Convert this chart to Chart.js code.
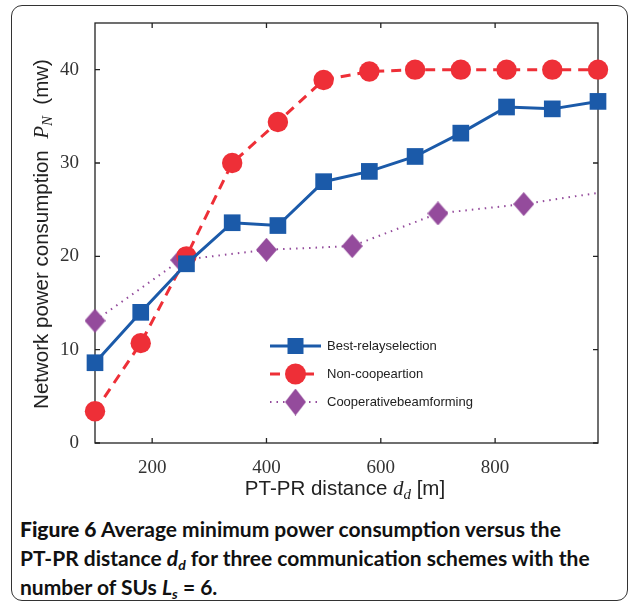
<!DOCTYPE html>
<html>
<head>
<meta charset="utf-8">
<script src="https://cdn.jsdelivr.net/npm/chart.js@4"></script>
<style>
  body { margin: 0; background: #fff; width: 635px; height: 603px; overflow: hidden; position: relative; }
  #frame { position: absolute; left: 11px; top: 5px; width: 617px; height: 596px; border: 1.3px solid #333; border-radius: 11px; box-sizing: border-box; }
  #wrap { position: absolute; left: 0; top: 0; width: 635px; height: 500px; }
  #caption { position: absolute; left: 20px; top: 514px; width: 610px; font-family: Lato, "Open Sans", sans-serif; font-weight: 700; font-size: 21px; line-height: 29px; color: #111; white-space: nowrap; }
  #caption b { font-weight: 900; }
  #caption sub { font-size: 14px; vertical-align: -4px; line-height: 0; }
</style>
</head>
<body>
<div id="frame"></div>
<div id="wrap"><canvas id="chart" width="635" height="500"></canvas></div>
<div id="caption"><b>Figure 6</b> Average minimum power consumption versus the<br>PT-PR distance <i>d<sub>d</sub></i> for three communication schemes with the<br>number of SUs <i>L<sub>s</sub></i> = 6.</div>
<script>
// distances (m) and power values (mw)
const relayX = [100, 180, 260, 340, 420, 500, 580, 660, 740, 820, 900, 980];
const bestRelay = [8.6, 14.0, 19.2, 23.6, 23.3, 28.0, 29.1, 30.7, 33.2, 36.0, 35.8, 36.6];
const nonCoop = [3.4, 10.7, 20.0, 30.0, 34.4, 38.9, 39.8, 40.0, 40.0, 40.0, 40.0, 40.0];
const beamX = [100, 250, 400, 550, 700, 850, 980];
const beamforming = [13.1, 19.6, 20.7, 21.1, 24.6, 25.6, 26.8];

const xTicks = [200, 400, 600, 800];
const yTicks = [0, 10, 20, 30, 40];
const seriesNames = ['Best-relayselection', 'Non-coopeartion', 'Cooperativebeamforming'];

const BLUE = '#1b5aa9';
const RED = '#ee2f37';
const PURPLE = '#944b9c';

function toPoints(xs, ys) {
  return xs.map((x, i) => ({ x: x, y: ys[i] }));
}

// slightly tall diamond, used as the point style of the beamforming series
function makeDiamond(w, h, color) {
  const c = document.createElement('canvas');
  c.width = w; c.height = h;
  const g = c.getContext('2d');
  g.fillStyle = color;
  g.beginPath();
  g.moveTo(w / 2, 0); g.lineTo(w, h / 2); g.lineTo(w / 2, h); g.lineTo(0, h / 2);
  g.closePath();
  g.fill();
  return c;
}
const diamond = makeDiamond(21, 24, PURPLE);
const legendDiamond = makeDiamond(21, 27, PURPLE);

// box around the plot with inward ticks on all four sides
const framePlugin = {
  id: 'frame',
  beforeDatasetsDraw(chart) {
    const ctx = chart.ctx;
    const a = chart.chartArea;
    const xs = chart.scales.x, ys = chart.scales.y;
    ctx.save();
    ctx.strokeStyle = '#222';
    ctx.lineWidth = 1.3;
    ctx.strokeRect(a.left, a.top, a.right - a.left, a.bottom - a.top);
    ctx.beginPath();
    xTicks.forEach(v => {
      const px = xs.getPixelForValue(v);
      ctx.moveTo(px, a.bottom); ctx.lineTo(px, a.bottom - 5);
      ctx.moveTo(px, a.top); ctx.lineTo(px, a.top + 5);
    });
    yTicks.forEach(v => {
      const py = ys.getPixelForValue(v);
      ctx.moveTo(a.left, py); ctx.lineTo(a.left + 5, py);
      ctx.moveTo(a.right, py); ctx.lineTo(a.right - 5, py);
    });
    ctx.stroke();
    ctx.restore();
  }
};

// draws a list of text runs, some in math italic with subscripts
function drawRuns(ctx, runs, cx, baseY) {
  let total = 0;
  runs.forEach(r => { ctx.font = r.font; total += ctx.measureText(r.text).width; });
  let x = cx - total / 2;
  runs.forEach(r => {
    ctx.font = r.font;
    ctx.fillText(r.text, x, baseY + (r.dy || 0));
    x += ctx.measureText(r.text).width;
  });
}

const titlePlugin = {
  id: 'titles',
  afterDraw(chart) {
    const ctx = chart.ctx;
    ctx.save();
    ctx.fillStyle = '#222';
    ctx.textBaseline = 'alphabetic';
    ctx.textAlign = 'left';
    const sans = '20.5px "Liberation Sans"';
    const mathI = 'italic 21px "Liberation Serif"';
    const mathSub = 'italic 15px "Liberation Serif"';
    drawRuns(ctx, [
      { text: 'PT-PR distance ', font: sans },
      { text: 'd', font: mathI },
      { text: 'd', font: mathSub, dy: 4 },
      { text: ' [m]', font: sans }
    ], 345, 495);

    ctx.translate(48, 234);
    ctx.rotate(-Math.PI / 2);
    drawRuns(ctx, [
      { text: 'Network power consumption  ', font: sans },
      { text: 'P', font: mathI },
      { text: 'N', font: mathSub, dy: 4 },
      { text: '  (mw)', font: sans }
    ], 0, 0);
    ctx.restore();
  }
};

// legend drawn inside the plot, line sample with marker in the middle
const legendPlugin = {
  id: 'insideLegend',
  afterDraw(chart) {
    const ctx = chart.ctx;
    const rows = [346, 374, 402];
    const mx = 295.5;
    ctx.save();
    chart.data.datasets.forEach((ds, i) => {
      const y = rows[i];
      ctx.strokeStyle = ds.borderColor;
      ctx.lineWidth = ds.borderWidth;
      ctx.setLineDash(ds.borderDash || []);
      ctx.beginPath();
      ctx.moveTo(270, y); ctx.lineTo(321, y);
      ctx.stroke();
      ctx.setLineDash([]);
      ctx.fillStyle = ds.borderColor;
      ctx.beginPath();
      if (i === 0) {
        ctx.rect(mx - 8, y - 8, 16, 16);
        ctx.fill();
      } else if (i === 1) {
        ctx.arc(mx, y, 10.5, 0, Math.PI * 2);
        ctx.fill();
      } else {
        ctx.drawImage(legendDiamond, mx - 10.5, y - 13.5);
      }
      ctx.fillStyle = '#222';
      ctx.font = '13px "Liberation Sans"';
      ctx.textBaseline = 'middle';
      ctx.fillText(seriesNames[i], 327, y + 0.5);
    });
    ctx.restore();
  }
};

new Chart(document.getElementById('chart'), {
  type: 'line',
  data: {
    datasets: [{
      label: seriesNames[0],
      data: toPoints(relayX, bestRelay),
      borderColor: BLUE,
      backgroundColor: BLUE,
      borderWidth: 3,
      pointStyle: 'rect',
      pointRadius: 11.8,
      pointBorderWidth: 0,
      clip: false
    }, {
      label: seriesNames[1],
      data: toPoints(relayX, nonCoop),
      borderColor: RED,
      backgroundColor: RED,
      borderWidth: 3,
      borderDash: [10, 7],
      pointStyle: 'circle',
      pointRadius: 10.2,
      pointBorderWidth: 0,
      clip: false
    }, {
      label: seriesNames[2],
      data: toPoints(beamX, beamforming),
      borderColor: PURPLE,
      backgroundColor: PURPLE,
      borderWidth: 2,
      borderDash: [1.5, 5],
      pointStyle: diamond,
      pointRadius: beamX.map((x, i) => i === beamX.length - 1 ? 0 : 10),
      pointBorderWidth: 0,
      clip: false
    }]
  },
  options: {
    responsive: false,
    animation: false,
    events: [],
    layout: { padding: { left: 0, right: 37, top: 23, bottom: 0 } },
    plugins: { legend: { display: false }, tooltip: { enabled: false } },
    scales: {
      x: {
        type: 'linear',
        min: 100, max: 980,
        grid: { display: false },
        border: { display: false },
        afterBuildTicks: s => { s.ticks = xTicks.map(v => ({ value: v })); },
        afterFit: s => { s.height = 57; },
        ticks: { color: '#333', padding: 6, maxRotation: 0, font: { family: '"Liberation Serif"', size: 19 } }
      },
      y: {
        min: 0, max: 45,
        grid: { display: false },
        border: { display: false },
        afterBuildTicks: s => { s.ticks = yTicks.map(v => ({ value: v })); },
        afterFit: s => { s.width = 95; },
        ticks: { color: '#333', padding: 8, font: { family: '"Liberation Serif"', size: 19 } }
      }
    }
  },
  plugins: [framePlugin, titlePlugin, legendPlugin]
});
</script>
</body>
</html>
